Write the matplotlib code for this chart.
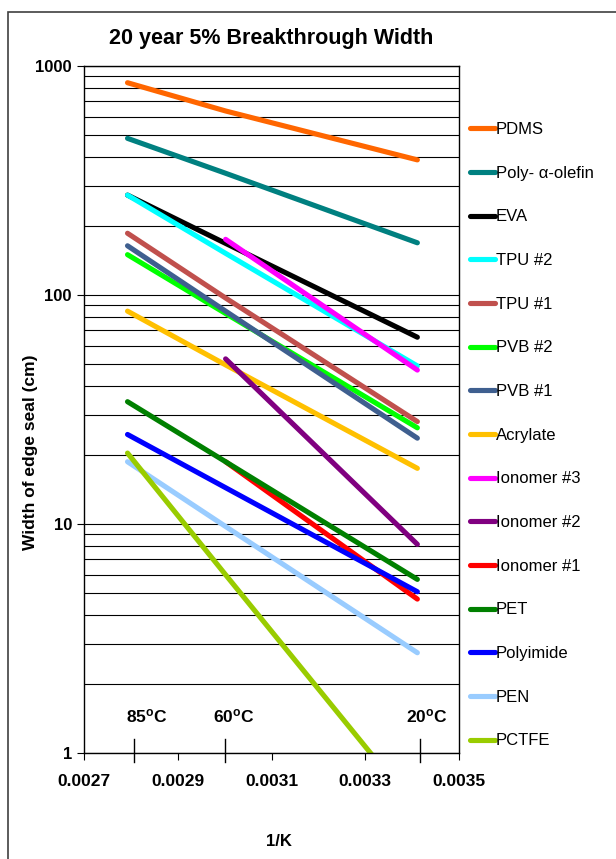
import numpy as np
import matplotlib
matplotlib.use('Agg')
import matplotlib.pyplot as plt
from matplotlib.patches import Rectangle
from matplotlib.ticker import FixedLocator, LogLocator, NullFormatter

plt.rcParams['font.family'] = ['Liberation Sans', 'DejaVu Sans']
plt.rcParams['mathtext.default'] = 'regular'

# temperatures of the three data points (85, 60, 20 C)
temps_c = [85, 60, 20]
inv_k = [1.0 / (t + 273.15) for t in temps_c]

# seal width (cm) at 85, 60, 20 C; nan where the series has no point
names = ['PDMS', 'Poly- \u03b1-olefin', 'EVA', 'TPU #2', 'TPU #1', 'PVB #2',
         'PVB #1', 'Acrylate', 'Ionomer #3', 'Ionomer #2', 'Ionomer #1',
         'PET', 'Polyimide', 'PEN', 'PCTFE']
pdms = [845, 636, 389]
polyolefin = [483, 340, 169]
eva = [273, 168, 65.4]
tpu2 = [273, 152, 49]
tpu1 = [186, 97, 28.0]
pvb2 = [150, 83, 26.3]
pvb1 = [164, 85, 23.7]
acrylate = [85, 49.5, 17.5]
ionomer3 = [np.nan, 175, 47]
ionomer2 = [np.nan, 52.6, 8.15]
ionomer1 = [np.nan, 18.7, 4.70]
pet = [34.2, 18.7, 5.73]
polyimide = [24.6, 14.4, 5.06]
pen = [18.7, 9.75, 2.74]
pctfe = [20.4, 6.0, 0.56]
series = [pdms, polyolefin, eva, tpu2, tpu1, pvb2, pvb1, acrylate,
          ionomer3, ionomer2, ionomer1, pet, polyimide, pen, pctfe]
colors = ['#FF6600', '#008080', '#000000', '#00FFFF', '#C0504D', '#00FF00',
          '#3F5F8F', '#FFC000', '#FF00FF', '#800080', '#FF0000', '#008000',
          '#0000FF', '#99CCFF', '#99CC00']

xticks = [0.0027, 0.0029, 0.0031, 0.0033, 0.0035]
temp_labels = ['85$^{o}$C', '60$^{o}$C', '20$^{o}$C']
temp_marks = [0.002805, 0.003001, 0.003416]
temp_text_x = [0.002788, 0.002975, 0.003388]

fig = plt.figure(figsize=(6.16, 8.59), dpi=100)
ax = fig.add_axes([0.137, 0.1234, 0.608, 0.7998])

for vals, name, c in zip(series, names, colors):
    ax.plot(inv_k, vals, color=c, lw=3.7, solid_capstyle='round', label=name)

ax.set_yscale('log')
ax.set_ylim(1, 1000)
ax.set_xlim(0.0027, 0.0035)
ax.xaxis.set_major_locator(FixedLocator(xticks))
ax.set_xticklabels(['%.4f' % v for v in xticks], fontweight='bold', fontsize=12.5)
ax.yaxis.set_major_locator(LogLocator(base=10))
ax.yaxis.set_minor_locator(LogLocator(base=10, subs=np.arange(2, 10)))
ax.yaxis.set_minor_formatter(NullFormatter())
ax.set_yticks([1, 10, 100, 1000])
ax.set_yticklabels(['1', '10', '100', '1000'], fontweight='bold', fontsize=12)
ax.tick_params(axis='x', direction='out', length=5, width=0.8, pad=10)
ax.tick_params(axis='y', which='major', direction='out', length=5, width=0.8, pad=4)
ax.tick_params(axis='y', which='minor', length=0)
ax.grid(axis='y', which='both', color='black', lw=0.8)
ax.set_axisbelow(True)
for sp in ax.spines.values():
    sp.set_linewidth(1.0)

# temperature markers on the x axis
trans = ax.get_xaxis_transform()
for xm, xt, lab in zip(temp_marks, temp_text_x, temp_labels):
    ax.plot([xm, xm], [-0.013, 0.02], color='black', lw=1, transform=trans,
            clip_on=False)
    ax.text(xt, 0.054, lab, transform=trans, ha='left', va='center',
            fontsize=12.5, fontweight='bold')

ax.set_title('20 year 5% Breakthrough Width', fontsize=15.5, fontweight='bold',
             pad=16)
ax.set_ylabel('Width of edge seal (cm)', fontsize=12.5, fontweight='bold',
              va='center')
ax.yaxis.set_label_coords(-0.143, 0.438)
ax.set_xlabel('1/K', fontsize=12, fontweight='bold')
ax.xaxis.set_label_coords(0.52, -0.118)

ax.legend(loc='upper left', bbox_to_anchor=(470 / 616, 1 - 122 / 859),
          bbox_transform=fig.transFigure, frameon=False, fontsize=12,
          handlelength=1.5, handletextpad=0.05, labelspacing=1.72,
          borderpad=0, borderaxespad=0)

# outer chart frame
fig.patches.append(Rectangle((8 / 616, -0.1), 1.2, 1.093 - 6 / 859,
                             transform=fig.transFigure, fill=False,
                             edgecolor='#404040', lw=1.2))

fig.savefig('out.png', dpi=100)
